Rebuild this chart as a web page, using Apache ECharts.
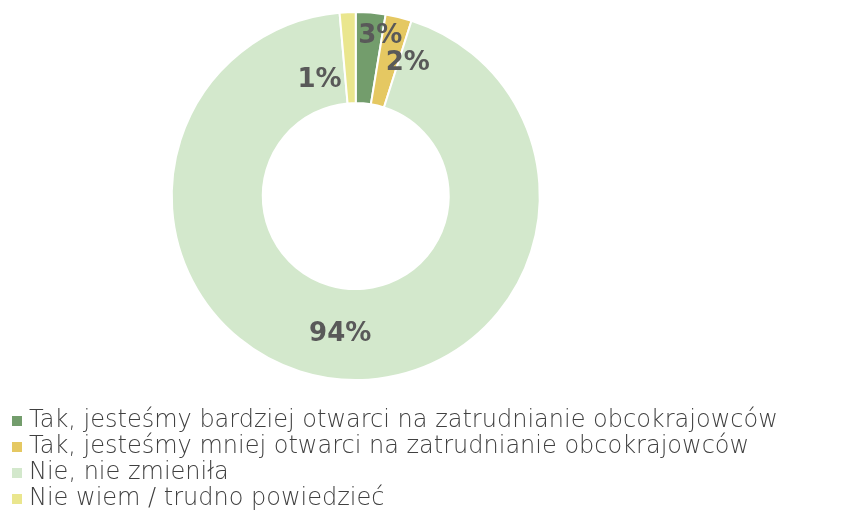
<!DOCTYPE html>
<html>
<head>
<meta charset="utf-8">
<script src="https://cdn.jsdelivr.net/npm/echarts@6/dist/echarts.min.js"></script>
<style>
  html, body { margin: 0; padding: 0; background: #fff; }
  #chart { width: 843px; height: 516px; }
</style>
</head>
<body>
<div id="chart"></div>
<script>
  // kategorie i udziały
  const categories = [
    'Tak, jesteśmy bardziej otwarci na zatrudnianie obcokrajowców',
    'Tak, jesteśmy mniej otwarci na zatrudnianie obcokrajowców',
    'Nie, nie zmieniła',
    'Nie wiem / trudno powiedzieć'
  ]
  const shares = [2.6, 2.3, 93.7, 1.4]
  const colors = ['#739d6c', '#e5c862', '#d3e8cc', '#eae68e']
  // przesunięcia etykiet względem domyślnej pozycji
  const labelShift = [[13, -19], [19, 5], [0, -2], [-30, 26]]

  const chart = echarts.init(document.getElementById('chart'))
  const option = {
    animation: false,
    color: colors,
    legend: {
      orient: 'vertical',
      left: 10,
      top: 408,
      padding: 0,
      itemWidth: 12,
      itemHeight: 12,
      itemGap: 0,
      icon: 'rect',
      textStyle: {
        fontFamily: 'DejaVu Sans',
        fontWeight: 200,
        fontSize: 24,
        lineHeight: 26,
        color: '#404040',
        padding: [0, 0, 0, 1]
      },
      data: categories
    },
    series: [
      {
        type: 'pie',
        center: ['42.2%', '38%'],
        radius: [93, 184],
        startAngle: 90,
        clockwise: true,
        itemStyle: {
          borderColor: '#fff',
          borderWidth: 2
        },
        label: {
          show: true,
          position: 'inside',
          formatter: p => Math.round(p.value) + '%',
          fontFamily: 'DejaVu Sans',
          fontWeight: 'bold',
          fontSize: 26,
          color: '#595959'
        },
        labelLayout: p => ({ dx: labelShift[p.dataIndex][0], dy: labelShift[p.dataIndex][1] }),
        labelLine: { show: false },
        emphasis: { disabled: true },
        data: categories.map((name, i) => ({ name: name, value: shares[i] }))
      }
    ]
  }
  chart.setOption(option)
</script>
</body>
</html>
